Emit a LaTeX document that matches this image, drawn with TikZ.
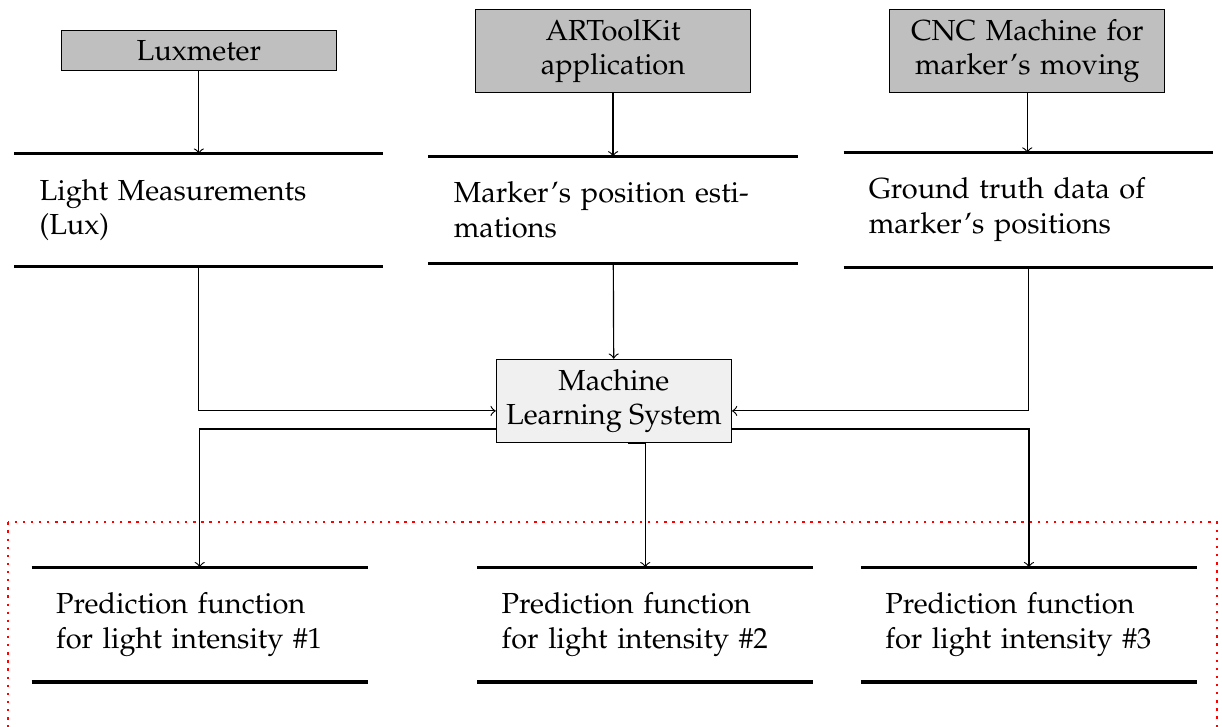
\documentclass[tikz,border=0pt]{standalone}
\usepackage[T1]{fontenc}
\usepackage{mathpazo}
\tikzset{
    device/.style={draw, fill=gray!50, text width=3.1cm, align=center},
    system/.style={draw, fill=gray!12, align=center},
    store/.style={text width=3.86cm, inner xsep=0.3cm, inner ysep=0.3cm, align=left},
    predstore/.style={text width=3.48cm, inner xsep=0.29cm, inner ysep=0.3cm, align=left}
}
\begin{document}
\begin{tikzpicture}[>=to]
    \useasboundingbox (0,0) rectangle (14.81,-8.8);

    % sources
    \node[device] (lux) at (2.41,-0.61) {Luxmeter};
    \node[device] (artk) at (7.43,-0.62) {ARToolKit\\application};
    \node[device] (cnc) at (12.45,-0.62) {CNC Machine for\\marker's moving};

    % data
    \node[store] (light) at (2.41,-2.545) {Light Measurements\\(Lux)};
    \node[store] (marker) at (7.43,-2.545) {Marker's position esti-\\mations};
    \node[store] (truth) at (12.46,-2.545) {Ground truth data of\\marker's positions};

    \node[system] (ml) at (7.44,-4.86) {Machine\\Learning System};

    % predictions
    \node[predstore] (pred1) at (2.42,-7.57) {Prediction function\\for light intensity \#1};
    \node[predstore] (pred2) at (7.82,-7.57) {Prediction function\\for light intensity \#2};
    \node[predstore] (pred3) at (12.47,-7.57) {Prediction function\\for light intensity \#3};

    \foreach \n in {light,marker,truth,pred1,pred2,pred3}
        \draw[very thick] (\n.north west) -- (\n.north east) (\n.south west) -- (\n.south east);

    \draw[->] (lux) -- (light);
    \draw[->] (artk) -- (marker);
    \draw[->] (cnc) -- (truth.north -| cnc);

    \draw[->] (light.south) |- ([yshift=-0.12cm]ml.west);
    \draw[->] (marker) -- (ml);
    \draw[->] (truth.south) |- ([yshift=-0.12cm]ml.east);

    \draw[->] ([yshift=-0.34cm]ml.west) -| (pred1.north);
    \draw[->] ([xshift=0.17cm]ml.south) -| (pred2.north);
    \draw[->] ([yshift=-0.34cm]ml.east) -| (pred3.north);

    \draw[red, dotted, thick] (0.1,-6.33) rectangle (14.75,-9.2);
\end{tikzpicture}
\end{document}
